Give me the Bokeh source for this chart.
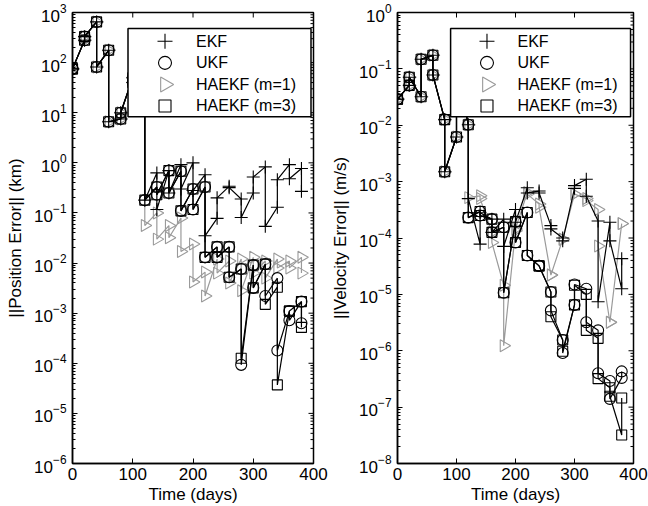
import math
from bokeh.plotting import figure
from bokeh.models import FixedTicker, Range1d
from bokeh.core.properties import value
from bokeh.layouts import row
from bokeh.embed import file_html
from bokeh.resources import INLINE

FONT = "Liberation Sans"

days = [0, 20, 40, 60, 80, 100, 120, 140, 160, 180, 200, 220, 240, 260, 280, 300, 320, 340, 360, 380]

# ---- Position error (km): value before update (pre) and after update (post) at each day
pos_ekf_pre = [75, 280, 650, 176, 7.5, 50, 60, 0.63, 0.70, 0.92, 1.0, 0.58, 0.078, 0.34, 0.19, 0.25, 0.83, 0.13, 0.92, 0.77]
pos_ekf_post = [75, 330, 82, 6.6, 10, 40, 0.18, 0.117, 0.25, 0.30, 0.28, 0.035, 0.20, 0.32, 0.081, 0.52, 0.054, 0.46, 0.48, 0.27]
pos_ukf_pre = [75, 280, 650, 176, 7.5, 50, 60, 0.33, 0.70, 0.68, 0.30, 0.33, 0.021, 0.021, 0.0076, 0.0091, 0.0095, 0.005, 0.0011, 0.0017]
pos_ukf_post = [75, 330, 82, 6.6, 10, 40, 0.18, 0.23, 0.25, 0.11, 0.117, 0.013, 0.013, 0.0052, 9.3e-5, 0.0032, 0.0022, 1.8e-4, 7.2e-4, 6.3e-4]
pos_m1_pre = [75, 280, 650, 176, 7.5, 50, 60, 0.1, 0.056, 0.079, 0.024, 0.0066, 0.012, 0.011, 0.012, 0.013, 0.011, 0.012, 0.011, 0.013]
pos_m1_post = [75, 330, 82, 6.6, 10, 40, 0.056, 0.030, 0.032, 0.017, 0.0042, 0.0022, 0.0063, 0.004, 0.0028, 0.0063, 0.005, 0.008, 0.008, 0.0063]
pos_m3_pre = [75, 280, 650, 176, 7.5, 50, 60, 0.33, 0.70, 0.68, 0.30, 0.33, 0.021, 0.021, 0.0076, 0.0091, 0.0095, 0.0033, 0.0011, 0.0017]
pos_m3_post = [75, 330, 82, 6.6, 10, 40, 0.18, 0.23, 0.25, 0.11, 0.117, 0.013, 0.013, 0.0052, 1.26e-4, 0.0032, 0.0015, 3.7e-5, 0.0011, 5.2e-4]

# ---- Velocity error (m/s)
vel_ekf_pre = [0.029, 0.051, 0.032, 0.174, 0.0126, 0.0062, 0.0102, 7.8e-5, 2.16e-4, 2.16e-4, 3.2e-4, 7.8e-4, 6.8e-4, 1.66e-4, 1.0e-4, 7.6e-4, 1.1e-3, 2.0e-4, 1.9e-4, 1.26e-5]
vel_ekf_post = [0.029, 0.071, 0.148, 0.078, 0.0015, 0.12, 5.0e-4, 2.8e-4, 1.26e-4, 7.1e-5, 1.9e-4, 6.3e-4, 6.3e-4, 1.45e-4, 8.9e-5, 8.5e-4, 5.5e-4, 7.4e-6, 8.9e-5, 4.3e-5]
vel_ukf_pre = [0.029, 0.051, 0.032, 0.174, 0.0126, 0.0062, 0.0102, 2.95e-4, 2.16e-4, 1.55e-4, 1.95e-4, 2.84e-4, 3.2e-5, 1.1e-5, 1.55e-6, 6.5e-6, 1.26e-5, 2.3e-6, 2.9e-7, 3.3e-7]
vel_ukf_post = [0.029, 0.071, 0.148, 0.078, 0.0015, 0.12, 2.3e-4, 2.5e-4, 1.26e-4, 1.07e-5, 8.3e-5, 4.9e-5, 3.2e-5, 5.2e-6, 9.1e-7, 1.5e-5, 3.2e-6, 4.0e-7, 1.4e-7, 4.3e-7]
vel_m1_pre = [0.029, 0.051, 0.032, 0.174, 0.0126, 0.0062, 0.0102, 5.6e-4, 1.26e-4, 1.45e-5, 1.35e-4, 6.4e-4, 4.0e-4, 2.2e-5, 9.5e-5, 6.0e-4, 5.0e-4, 3.2e-4, 3.2e-6, 1.8e-4]
vel_m1_post = [0.029, 0.071, 0.148, 0.078, 0.0015, 0.12, 5.2e-4, 5.0e-4, 8.3e-5, 1.23e-6, 1.45e-4, 6.0e-4, 3.5e-4, 2.2e-5, 9.5e-5, 6.0e-4, 4.6e-4, 7.2e-5, 3.2e-6, 1.8e-4]
vel_m3_pre = [0.029, 0.051, 0.032, 0.174, 0.0126, 0.0062, 0.0102, 2.95e-4, 2.16e-4, 1.55e-4, 1.95e-4, 2.84e-4, 3.2e-5, 1.1e-5, 1.55e-6, 6.5e-6, 1.0e-5, 1.66e-6, 2.2e-7, 3.2e-8]
vel_m3_post = [0.029, 0.071, 0.148, 0.078, 0.0015, 0.12, 2.3e-4, 2.5e-4, 1.26e-4, 1.07e-5, 8.3e-5, 4.9e-5, 3.2e-5, 4.0e-6, 9.8e-7, 1.45e-5, 2.3e-6, 3.2e-7, 1.56e-7, 1.45e-7]

labels = ["EKF", "UKF", "HAEKF (m=1)", "HAEKF (m=3)"]
x_ticks = [0, 100, 200, 300, 400]

# legend box layout in pixels (relative to the plot frame's top-left)
FRAME_H = 454
LEG_TOP = 16
LEG_W = 183
LEG_H = 89
ROW0 = 13
ROW_STEP = 21.7
SYM_DX = 37
TXT_DX = 68


def path(pre, post):
    xs, ys = [], []
    for t, a, b in zip(days, pre, post):
        xs += [t, t]
        ys += [a, b]
    return xs, ys


STYLES = {
    "EKF": dict(marker="cross", size=13, lsize=15, color="black", angle=0.0),
    "UKF": dict(marker="circle", size=11, lsize=13, color="black", angle=0.0),
    "HAEKF (m=1)": dict(marker="triangle", size=12, lsize=15, color="#9a9a9a", angle=-math.pi / 2),
    "HAEKF (m=3)": dict(marker="square", size=10, lsize=12, color="black", angle=0.0),
}


def make_panel(width, border_left, ylo, yhi, ylabel, series, legend_x):
    frame_w = width - border_left - 15
    p = figure(width=width, height=506, x_range=Range1d(0, 400), y_range=Range1d(ylo, yhi),
               y_axis_type="log", output_backend="svg", toolbar_location=None,
               min_border_left=border_left, min_border_right=15, min_border_top=12, min_border_bottom=40)
    p.grid.visible = False
    p.outline_line_color = "black"
    p.outline_line_width = 1.5
    p.background_fill_color = "white"
    p.border_fill_color = "white"

    lo, hi = math.log10(ylo), math.log10(yhi)
    decs = list(range(int(round(lo)), int(round(hi)) + 1))
    major = [10.0 ** d for d in decs]
    minor = [m * 10.0 ** d for d in decs[:-1] for m in range(2, 10)]
    yt = FixedTicker(ticks=major, minor_ticks=minor)
    xt = FixedTicker(ticks=x_ticks, minor_ticks=[])

    p.xaxis.ticker = xt
    p.yaxis.ticker = yt
    for ax in (p.xaxis[0], p.yaxis[0]):
        ax.axis_line_width = 1.5
        ax.major_tick_in = 5
        ax.major_tick_out = 0
        ax.minor_tick_in = 3
        ax.minor_tick_out = 0
        ax.major_label_text_font = FONT
        ax.major_label_text_font_size = "17px"
        ax.major_label_text_color = "black"
        ax.axis_label_text_font = FONT
        ax.axis_label_text_font_size = "17px"
        ax.axis_label_text_font_style = "normal"
        ax.axis_label_text_color = "black"
    p.xaxis.axis_label = "Time (days)"
    p.xaxis.major_label_standoff = 4
    p.xaxis.axis_label_standoff = 2
    p.yaxis.axis_label = ylabel
    p.yaxis.major_label_standoff = 6
    p.yaxis.axis_label_standoff = 6

    # mirrored inward ticks on the top and right edges
    p.ray(x=[400] * len(major), y=major, length=5, length_units="screen", angle=math.pi,
          line_color="black", line_width=1)
    p.ray(x=[400] * len(minor), y=minor, length=3, length_units="screen", angle=math.pi,
          line_color="black", line_width=1)
    p.ray(x=x_ticks, y=[yhi] * len(x_ticks), length=5, length_units="screen", angle=-math.pi / 2,
          line_color="black", line_width=1)

    for name in ["HAEKF (m=1)", "UKF", "HAEKF (m=3)", "EKF"]:
        pre, post = series[name]
        st = STYLES[name]
        xs, ys = path(pre, post)
        p.line(xs, ys, line_color=st["color"], line_width=1.2)
        p.scatter(xs, ys, marker=st["marker"], size=st["size"], angle=st["angle"],
                  line_color=st["color"], line_width=1.1, fill_color=None)

    # ---- legend (box, symbols, labels) drawn above the data
    def dx(px):
        return px * 400.0 / frame_w

    def dy(py):
        return 10 ** (hi - py * (hi - lo) / FRAME_H)

    p.quad(left=[dx(legend_x)], right=[dx(legend_x + LEG_W)], top=[dy(LEG_TOP)], bottom=[dy(LEG_TOP + LEG_H)],
           fill_color="white", line_color="black", line_width=1.5, level="overlay")
    for i, name in enumerate(labels):
        st = STYLES[name]
        ry = dy(LEG_TOP + ROW0 + i * ROW_STEP)
        p.scatter([dx(legend_x + SYM_DX)], [ry], marker=st["marker"], size=st["lsize"], angle=st["angle"],
                  line_color=st["color"], line_width=1.1, fill_color=None, level="overlay")
        p.text([dx(legend_x + TXT_DX)], [ry], text=[name], text_font=value(FONT), text_font_size="16px",
               text_color="black", text_baseline="middle", text_align="left", level="overlay")
    return p


left = make_panel(328, 72, 1e-6, 1e3, "||Position Error|| (km)", {
    "EKF": (pos_ekf_pre, pos_ekf_post),
    "UKF": (pos_ukf_pre, pos_ukf_post),
    "HAEKF (m=1)": (pos_m1_pre, pos_m1_post),
    "HAEKF (m=3)": (pos_m3_pre, pos_m3_post),
}, 55.5)

right = make_panel(320, 65, 1e-8, 1e0, "||Velocity Error|| (m/s)", {
    "EKF": (vel_ekf_pre, vel_ekf_post),
    "UKF": (vel_ukf_pre, vel_ukf_post),
    "HAEKF (m=1)": (vel_m1_pre, vel_m1_post),
    "HAEKF (m=3)": (vel_m3_pre, vel_m3_post),
}, 54)

layout = row(left, right, spacing=0)
open("out.html", "w").write(file_html(layout, INLINE))
